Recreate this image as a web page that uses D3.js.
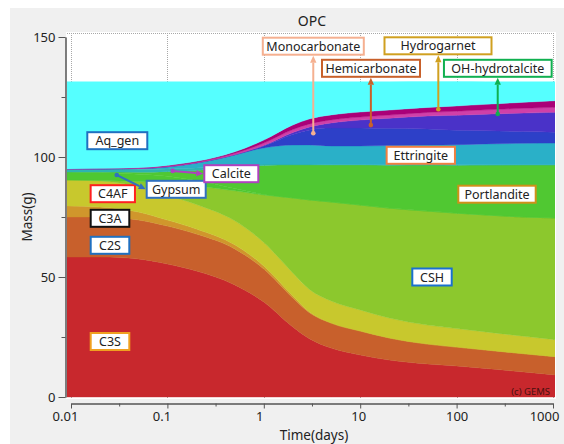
<!DOCTYPE html>
<html>
<head>
<meta charset="utf-8">
<script src="https://cdn.jsdelivr.net/npm/d3@7"></script>
<style>
  body { margin: 0; background: #ffffff; }
  text { font-family: "Noto Sans", "Open Sans", sans-serif; fill: #222; }
</style>
</head>
<body>
<svg id="chart" width="564" height="444"></svg>
<script>
// time points (days)
let times = [0.01, 0.02, 0.05, 0.1, 0.2, 0.5, 1, 2, 3, 5, 10, 20, 50, 100, 200, 500, 1000];

// masses (g), stacked bottom -> top
let C3S          = [58.3, 58.3, 57.5, 55.4, 52.5, 46.7, 39.6, 29.2, 24.2, 20.4, 17.5, 15.4, 13.75, 12.9, 11.9, 10.4, 9.2];
let C2S          = [16.7, 16.7, 16.25, 15.8, 15.4, 15.0, 13.75, 12.1, 10.8, 10.4, 10.0, 9.2, 8.3, 7.9, 7.7, 7.6, 7.6];
let C3A          = [4.6, 4.2, 3.3, 2.5, 2.1, 1.7, 1.25, 0.8, 0.3, 0, 0, 0, 0, 0, 0, 0, 0];
let C4AF         = [10.8, 10.8, 10.6, 10.4, 10.2, 10.0, 9.8, 9.6, 9.4, 9.2, 8.75, 8.3, 7.9, 7.7, 7.5, 7.3, 7.1];
let CSH          = [0, 0.2, 2.1, 5.0, 7.7, 12.5, 19.8, 31.25, 37.4, 41.25, 43.75, 45.8, 47.5, 48.1, 48.75, 49.7, 50.7];
let Gypsum       = [3.3, 3.3, 3.1, 2.9, 2.3, 1.0, 0.2, 0, 0, 0, 0, 0, 0, 0, 0, 0, 0];
let Portlandite  = [0, 0.2, 0.8, 1.9, 4.2, 9.0, 12.1, 13.75, 14.6, 15.4, 16.7, 17.9, 19.2, 20.0, 20.8, 21.7, 22.1];
let Calcite      = [1.25, 1.25, 1.25, 1.15, 1.05, 0.85, 0.6, 0.4, 0.35, 0.25, 0.2, 0.15, 0.12, 0.12, 0.1, 0.1, 0.1];
let Ettringite   = [0, 0.1, 0.3, 0.9, 2.1, 4.2, 6.7, 7.9, 8.0, 7.7, 7.7, 8.0, 8.2, 8.4, 8.7, 8.9, 9.0];
let Monocarb     = [0, 0, 0, 0, 0, 0, 0.8, 4.4, 6.25, 7.5, 7.5, 7.2, 6.7, 6.0, 5.5, 4.9, 4.5];
let Hemicarb     = [0, 0, 0, 0, 0, 0, 0.2, 0.8, 1.25, 2.1, 3.3, 4.2, 5.4, 6.25, 6.9, 7.7, 8.3];
let Hydrotalcite = [0, 0.06, 0.17, 0.3, 0.3, 0.6, 1.0, 1.25, 1.25, 1.25, 1.25, 1.3, 1.5, 1.7, 1.8, 2.0, 2.1];
let Hydrogarnet  = [0, 0.06, 0.17, 0.25, 0.33, 0.6, 1.25, 1.9, 2.1, 2.1, 2.1, 2.1, 2.1, 2.2, 2.3, 2.5, 2.75];
let Aq_gen       = [36.45, 36.2, 35.85, 34.9, 33.2, 29.25, 24.35, 18.05, 15.5, 13.85, 12.65, 11.85, 10.75, 10.15, 9.45, 8.6, 7.95];

let x_ticks = [0.01, 0.1, 1, 10, 100, 1000];
let x_tick_labels = ["0.01", "0.1", "1", "10", "100", "1000"];
let x_minor = [0.0316, 0.316, 3.16, 31.6, 316];
let y_ticks = [0, 50, 100, 150];
let y_minor = [25, 75, 125];

let series = [
  ["C3S", C3S, "#c8282d"],
  ["C2S", C2S, "#c8602c"],
  ["C3A", C3A, "#d0962c"],
  ["C4AF", C4AF, "#c8c82d"],
  ["CSH", CSH, "#8cc82d"],
  ["Gypsum", Gypsum, "#4ec832"],
  ["Portlandite", Portlandite, "#50c832"],
  ["Calcite", Calcite, "#2db4b0"],
  ["Ettringite", Ettringite, "#2ab0c8"],
  ["Monocarbonate", Monocarb, "#2d40c8"],
  ["Hemicarbonate", Hemicarb, "#4a32c8"],
  ["OH-hydrotalcite", Hydrotalcite, "#d040a8"],
  ["Hydrogarnet", Hydrogarnet, "#aa0078"],
  ["Aq_gen", Aq_gen, "#55ffff"]
];

// label boxes: text, centre, width, border colour, arrow start (t, mass) or null
let labels = [
  ["Monocarbonate", 313.3, 46.2, 101, "#f5b090", [3.26, 109.9]],
  ["Hemicarbonate", 371, 68.3, 98, "#c8602a", [12.9, 113.3]],
  ["Hydrogarnet", 438, 45.8, 107, "#d0a020", [64.6, 119.9]],
  ["OH-hydrotalcite", 497.8, 68.3, 107.7, "#10b050", [267, 117.9]],
  ["Aq_gen", 117.3, 140.7, 60, "#2070c0", null],
  ["C4AF", 112.8, 193.7, 44.3, "#ff2020", null],
  ["C3A", 110, 218.3, 38.6, "#111111", null],
  ["C2S", 110, 245.3, 38.6, "#2070c0", null],
  ["C3S", 110, 341.5, 38.6, "#f0a020", null],
  ["Gypsum", 176.2, 189.3, 59, "#3070c0", [0.0298, 92.5]],
  ["Calcite", 231.3, 173.7, 54, "#b040c0", [0.1135, 94.2]],
  ["Ettringite", 420.8, 155.3, 68.3, "#f08040", null],
  ["Portlandite", 497, 194.2, 77.4, "#d0901a", null],
  ["CSH", 432, 277, 39.4, "#1a70d0", null]
];

let table = times.map(function(t, i) {
  let row = {t: t};
  series.forEach(function(s) { row[s[0]] = s[1][i]; });
  return row;
});

var svg = d3.select("#chart");
let plot = {left: 67, right: 555, top: 33, bottom: 398};

svg.append("rect").attr("x", 10).attr("y", 8).attr("width", 554).attr("height", 436).attr("fill", "#f0f0f0");
svg.append("rect")
  .attr("x", plot.left - 1).attr("y", plot.top - 1)
  .attr("width", plot.right - plot.left + 2).attr("height", plot.bottom - plot.top + 2)
  .attr("fill", "#ffffff");

var x_axis = d3.scaleLog().domain([0.01, 1000]).range([71, 553]);
var y_axis = d3.scaleLinear().domain([0, 150]).range([397, 37]);

// dotted grid
var grid = svg.append("g").attr("stroke", "#a8a8a8").attr("stroke-dasharray", "1,1").attr("stroke-width", 1);
grid.selectAll("line.v").data(x_ticks).enter().append("line")
  .attr("x1", d => Math.round(x_axis(d)) + 0.5).attr("x2", d => Math.round(x_axis(d)) + 0.5)
  .attr("y1", plot.top).attr("y2", plot.bottom);
grid.append("line").attr("x1", plot.left).attr("x2", plot.right).attr("y1", plot.top + 0.5).attr("y2", plot.top + 0.5);

svg.append("clipPath").attr("id", "clip").append("rect")
  .attr("x", plot.left).attr("y", plot.top).attr("width", plot.right - plot.left).attr("height", plot.bottom - plot.top);

var stack = d3.stack().keys(series.map(s => s[0]));
var layers = stack(table);
let n = times.length;

var area = d3.area()
  .x(function(d, i) {
    if (i == 0) return plot.left;
    if (i == n - 1) return plot.right;
    return x_axis(d.data.t);
  })
  .y0(d => y_axis(d[0]))
  .y1(d => y_axis(d[1]))
  .curve(d3.curveMonotoneX);

svg.append("g").attr("clip-path", "url(#clip)")
  .selectAll("path").data(layers).enter().append("path")
  .attr("d", area)
  .attr("fill", (d, i) => series[i][2])
  .attr("stroke", (d, i) => series[i][2])
  .attr("stroke-width", 0.4);

// axes
svg.append("g").attr("transform", "translate(65.5,0)")
  .call(d3.axisLeft(y_axis).tickValues(y_ticks).tickSize(7).tickSizeOuter(0).tickPadding(3));
svg.append("g").attr("transform", "translate(65.5,0)")
  .call(d3.axisLeft(y_axis).tickValues(y_minor).tickSize(4).tickFormat("").tickSizeOuter(0));
var xa = svg.append("g").attr("transform", "translate(0,403.5)")
  .call(d3.axisBottom(x_axis).tickValues(x_ticks).tickSize(5).tickSizeOuter(0).tickPadding(3)
    .tickFormat((d, i) => x_tick_labels[i]));
svg.append("g").attr("transform", "translate(0,403.5)")
  .call(d3.axisBottom(x_axis).tickValues(x_minor).tickSize(3).tickFormat("").tickSizeOuter(0));

// the labels sit a little left of their ticks, the last one ends at the frame
let label_shift = [-6, -6, -4.5, -2, 0, -9];
xa.selectAll(".tick text").attr("dx", (d, i) => label_shift[i]);

svg.selectAll(".domain, .tick line").attr("stroke", "#555");
svg.selectAll(".tick text").attr("font-size", "13px").attr("fill", "#222");

svg.append("text").attr("x", 312).attr("y", 26).attr("text-anchor", "middle").attr("font-size", "14px").text("OPC");
svg.append("text").attr("x", 314).attr("y", 440).attr("text-anchor", "middle").attr("font-size", "13.5px").text("Time(days)");
svg.append("text").attr("transform", "translate(32,217) rotate(-90)").attr("text-anchor", "middle")
  .attr("font-size", "13.5px").text("Mass(g)");

svg.append("text").attr("x", 550).attr("y", 395).attr("text-anchor", "end").attr("font-size", "9.5px")
  .style("fill", "#4a1010").text("(c) GEMS");

// labels with arrows
var ann = svg.append("g");
labels.forEach(function(l) {
  let cx = l[1], cy = l[2], w = l[3], h = 17, col = l[4];
  if (l[5]) {
    let px = x_axis(l[5][0]), py = y_axis(l[5][1]);
    let ex, ey;
    if (Math.abs(px - cx) < 5) { ex = px; ey = cy + h / 2 + 1; }
    else { ex = cx - w / 2 - 1; ey = cy; }
    let ang = Math.atan2(ey - py, ex - px);
    let hl = 7, hw = 3.2;
    let bx = ex - hl * Math.cos(ang), by = ey - hl * Math.sin(ang);
    ann.append("line").attr("x1", px).attr("y1", py).attr("x2", bx).attr("y2", by)
      .attr("stroke", col).attr("stroke-width", 2);
    ann.append("circle").attr("cx", px).attr("cy", py).attr("r", 2.3).attr("fill", col);
    ann.append("path")
      .attr("d", "M" + ex + "," + ey +
        "L" + (bx + hw * Math.sin(ang)) + "," + (by - hw * Math.cos(ang)) +
        "L" + (bx - hw * Math.sin(ang)) + "," + (by + hw * Math.cos(ang)) + "Z")
      .attr("fill", col);
  }
  ann.append("rect").attr("x", cx - w / 2).attr("y", cy - h / 2).attr("width", w).attr("height", h)
    .attr("fill", "#ffffff").attr("stroke", col).attr("stroke-width", 2);
  ann.append("text").attr("x", cx).attr("y", cy + 4.5).attr("text-anchor", "middle")
    .attr("font-size", "12.5px").text(l[0]);
});
</script>
</body>
</html>
